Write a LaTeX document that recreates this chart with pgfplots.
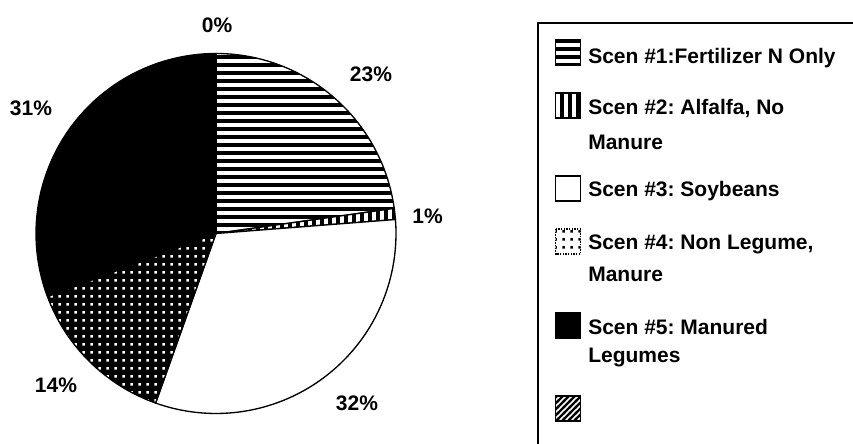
\documentclass[border=0pt]{standalone}
\usepackage{fontspec}
\setmainfont{Liberation Sans}
\usepackage{pgfplots}
\pgfplotsset{compat=1.18}
\usepackage{pgfplotstable}
\usetikzlibrary{patterns}
\frenchspacing

% fill patterns of the slices
\pgfdeclarepatternformonly{hstripes}{\pgfqpoint{-0.1pt}{-0.1pt}}{\pgfqpoint{6.1pt}{6.1pt}}{\pgfqpoint{6pt}{6pt}}{%
  \pgfpathrectangle{\pgfqpoint{-0.1pt}{0pt}}{\pgfqpoint{6.2pt}{2.8pt}}\pgfusepath{fill}}
\pgfdeclarepatternformonly{vstripes}{\pgfqpoint{-0.1pt}{-0.1pt}}{\pgfqpoint{6.1pt}{6.1pt}}{\pgfqpoint{6pt}{6pt}}{%
  \pgfpathrectangle{\pgfqpoint{0pt}{-0.1pt}}{\pgfqpoint{2.8pt}{6.2pt}}\pgfusepath{fill}}
\pgfdeclarepatternformonly{sqdots}{\pgfqpoint{0pt}{0pt}}{\pgfqpoint{6pt}{6pt}}{\pgfqpoint{6pt}{6pt}}{%
  \pgfpathrectangle{\pgfqpoint{2pt}{2pt}}{\pgfqpoint{2pt}{2pt}}\pgfusepath{fill}}
\pgfdeclarepatternformonly{dstripes}{\pgfqpoint{-1pt}{-1pt}}{\pgfqpoint{5.5pt}{5.5pt}}{\pgfqpoint{4.5pt}{4.5pt}}{%
  \pgfsetlinewidth{1.7pt}\pgfpathmoveto{\pgfqpoint{-1pt}{-1pt}}\pgfpathlineto{\pgfqpoint{5.5pt}{5.5pt}}\pgfusepath{stroke}}

\newcommand\chartfont{\fontsize{15.75}{18}\selectfont\bfseries}

\tikzset{
  slice0/.style={preaction={fill=white}, pattern=hstripes},
  slice1/.style={preaction={fill=white}, pattern=vstripes},
  slice2/.style={fill=white},
  slice3/.style={preaction={fill=black}, pattern=sqdots, pattern color=white},
  slice4/.style={fill=black},
  slice5/.style={preaction={fill=white}, pattern=dstripes},
  pielabel/.style={anchor=base, inner sep=0pt, font=\chartfont},
  legtext/.style={anchor=base west, inner sep=0pt, font=\chartfont},
}

% share of each scenario (percent) and where its label sits (axis units)
\pgfplotstableread{
share lx ly
23  0.861  0.842
1   1.175  0.058
32  0.783 -0.981
14 -0.889 -0.881
31 -1.028  0.658
0   0.006  1.119
}\piedata

% cumulative start / end angles, clockwise from 12 o'clock
\gdef\pietotal{0}%
\pgfplotstableforeachcolumnelement{share}\of\piedata\as\cellv{%
  \pgfmathsetmacro\tmp{\pietotal+\cellv}\xdef\pietotal{\tmp}}%
\gdef\pieangle{90}%
\pgfplotstableforeachcolumnelement{share}\of\piedata\as\cellv{%
  \expandafter\xdef\csname pieS\pgfplotstablerow\endcsname{\pieangle}%
  \pgfmathsetmacro\tmp{\pieangle-360*\cellv/\pietotal}%
  \xdef\pieangle{\tmp}%
  \expandafter\xdef\csname pieE\pgfplotstablerow\endcsname{\pieangle}%
  \expandafter\xdef\csname pieV\pgfplotstablerow\endcsname{\cellv}}%
\pgfplotstableforeachcolumnelement{lx}\of\piedata\as\cellv{%
  \expandafter\xdef\csname pieX\pgfplotstablerow\endcsname{\cellv}}%
\pgfplotstableforeachcolumnelement{ly}\of\piedata\as\cellv{%
  \expandafter\xdef\csname pieY\pgfplotstablerow\endcsname{\cellv}}%

\begin{document}
\begin{tikzpicture}
\begin{axis}[
  hide axis, clip=false,
  x=135pt, y=135pt,
  xmin=-1.3, xmax=1.3, ymin=-1.3, ymax=1.3,
  anchor=origin, at={(162pt,157.125pt)},
]
\pgfplotsinvokeforeach{0,...,5}{%
  \edef\temp{\noexpand\filldraw[slice#1, draw=black, line width=1pt, line join=round]
    (axis cs:0,0) -- (axis cs:{cos(\csname pieS#1\endcsname)},{sin(\csname pieS#1\endcsname)})
    arc[start angle=\csname pieS#1\endcsname, end angle=\csname pieE#1\endcsname, radius=135pt] -- cycle;}%
  \temp
}
\pgfplotsinvokeforeach{0,...,5}{%
  \edef\temp{\noexpand\node[pielabel] at (axis cs:\csname pieX#1\endcsname,\csname pieY#1\endcsname)
    {\csname pieV#1\endcsname\noexpand\%};}%
  \temp
}
\end{axis}

% legend
\begin{scope}[x=0.75pt, y=-0.75pt, yshift=332.25pt]
  \draw[line width=1.2pt] (537.7,470) -- (537.7,23.3) -- (880,23.3);
  \filldraw[slice0, draw=black, line width=1pt] (555.5,40) rectangle ++(25,25);
  \filldraw[slice1, draw=black, line width=1pt] (555.5,93) rectangle ++(25,25);
  \filldraw[slice2, draw=black, line width=1pt] (555.5,176) rectangle ++(25,25);
  \filldraw[preaction={fill=white}, pattern=sqdots, draw=black, densely dotted, line width=1pt] (555.5,229) rectangle ++(25,25);
  \filldraw[slice4, draw=black, line width=1pt] (555.5,313) rectangle ++(25,25);
  \filldraw[slice5, draw=black, line width=1pt] (555.5,396) rectangle ++(25,25);
  \node[legtext] at (588,63.3) {Scen \#1:Fertilizer N Only};
  \node[legtext] at (588,115) {Scen \#2: Alfalfa, No};
  \node[legtext] at (588,149.5) {Manure};
  \node[legtext] at (588,196.7) {Scen \#3: Soybeans};
  \node[legtext] at (588,250) {Scen \#4: Non Legume,};
  \node[legtext] at (588,281.7) {Manure};
  \node[legtext] at (588,334.3) {Scen \#5: Manured};
  \node[legtext] at (588,362.7) {Legumes};
\end{scope}

\pgfresetboundingbox
\useasboundingbox (0,0) rectangle (639.75pt,332.25pt);
\end{tikzpicture}
\end{document}
